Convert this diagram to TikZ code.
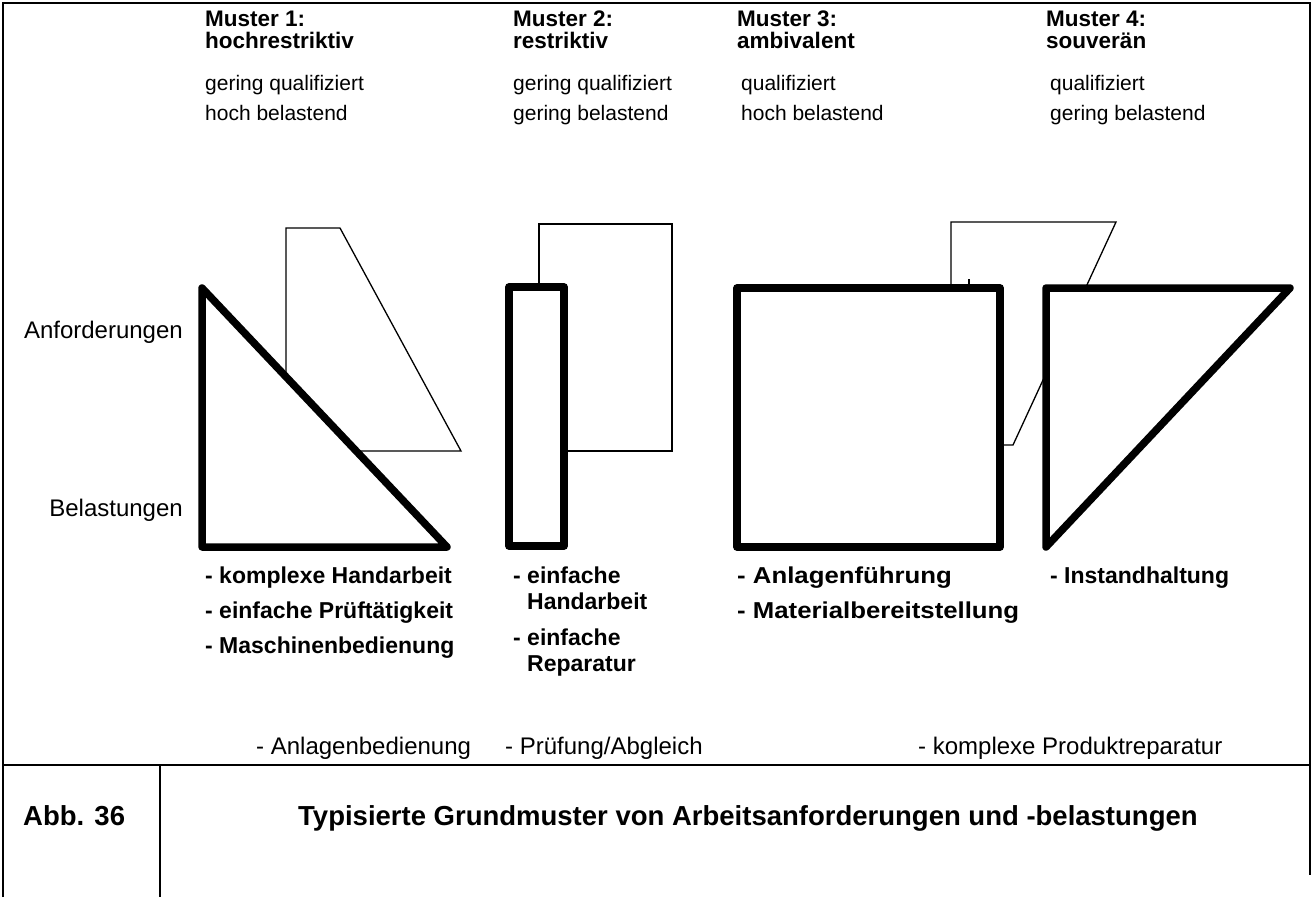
\documentclass[tikz,border=0pt]{standalone}
\usepackage{fontspec}
\setmainfont{Liberation Sans}
\begin{document}
\begin{tikzpicture}[x=1pt,y=-1pt,
  txt/.style={inner sep=0pt,anchor=base west,font=\fontsize{21}{24}\selectfont},
  ltxt/.style={inner sep=0pt,anchor=base west,font=\fontsize{24}{28}\selectfont},
  htxt/.style={inner sep=0pt,anchor=base west,font=\fontsize{22.5}{26}\selectfont\bfseries},
  btxt/.style={inner sep=0pt,anchor=base west,font=\fontsize{23}{26}\selectfont\bfseries},
  wtxt/.style={btxt,xscale=1.12},
  ctxt/.style={inner sep=0pt,anchor=base west,font=\fontsize{27.5}{32}\selectfont\bfseries},
  thin/.style={line width=1.3pt,line join=miter},
  thick/.style={line width=7.5pt,line join=round,fill=white},
  frame/.style={line width=1.5pt}]
\useasboundingbox (0,0) rectangle (1313,897);

% frame and caption box
\draw[frame] (3,897) -- (3,3) -- (1310,3) -- (1310,875);
\draw[frame] (3,765) -- (1310,765);
\draw[frame] (160,765) -- (160,897);

% pattern 1
\draw[thin] (286,228) -- (340,228) -- (461,451) -- (286,451) -- cycle;
\draw[thick] (202,288) -- (447,547) -- (202,547) -- cycle;
% pattern 2
\draw[thin] (539,224) rectangle (672,451);
\draw[thick] (509,287) rectangle (564,546);
% patterns 3 and 4
\draw[thin] (951,222) -- (1116,222) -- (1013,445) -- (951,445) -- cycle;
\draw[thick] (737,288) rectangle (1000,547);
\draw[thick] (1046,288) -- (1290,288) -- (1046,547) -- cycle;
\draw[thin] (969,279) -- (969,288);

% column headings
\node[htxt] (h1a) at (205,26) {Muster 1:};
\node[htxt] (h1b) at (205,48) {hochrestriktiv};
\node[htxt] (h2a) at (513,26) {Muster 2:};
\node[htxt] (h2b) at (513,48) {restriktiv};
\node[htxt] (h3a) at (737,26) {Muster 3:};
\node[htxt] (h3b) at (737,48) {ambivalent};
\node[htxt] (h4a) at (1046,26) {Muster 4:};
\node[htxt] (h4b) at (1046,48) {souverän};

\node[txt] (q1) at (205,90) {gering qualifiziert};
\node[txt] (b1) at (205,120) {hoch belastend};
\node[txt] (q2) at (513,90) {gering qualifiziert};
\node[txt] (b2) at (513,120) {gering belastend};
\node[txt] (q3) at (741,90) {qualifiziert};
\node[txt] (b3) at (741,120) {hoch belastend};
\node[txt] (q4) at (1050,90) {qualifiziert};
\node[txt] (b4) at (1050,120) {gering belastend};

% axis labels
\node[ltxt,anchor=base east] (anf) at (183,338) {Anforderungen};
\node[ltxt,anchor=base east] (bel) at (183,516) {Belastungen};

% activities
\node[btxt] (a11) at (205,583) {- komplexe Handarbeit};
\node[btxt] (a12) at (205,618) {- einfache Prüftätigkeit};
\node[btxt] (a13) at (205,653) {- Maschinenbedienung};
\node[btxt] (a21) at (513,583) {- einfache};
\node[btxt] (a22) at (527,609) {Handarbeit};
\node[btxt] (a23) at (513,645) {- einfache};
\node[btxt] (a24) at (527,671) {Reparatur};
\node[wtxt] (a31) at (737,583) {- Anlagenführung};
\node[wtxt] (a32) at (737,618) {- Materialbereitstellung};
\node[btxt] (a41) at (1050,583) {- Instandhaltung};

\node[ltxt] (c1) at (256,754) {- Anlagenbedienung};
\node[ltxt] (c2) at (505,754) {- Prüfung/Abgleich};
\node[ltxt] (c3) at (918,754) {- komplexe Produktreparatur};

% caption
\node[ctxt] (abb) at (23,825) {Abb. 36};
\node[ctxt] (cap) at (298,825) {Typisierte Grundmuster von Arbeitsanforderungen und -belastungen};
\end{tikzpicture}
\end{document}
